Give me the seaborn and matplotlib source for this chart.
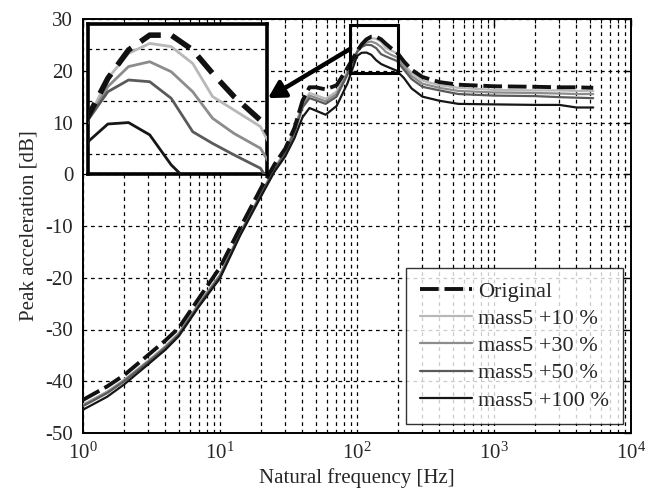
import matplotlib
matplotlib.use("Agg")
import matplotlib.pyplot as plt
import numpy as np
import pandas as pd
import seaborn as sns
from matplotlib.patches import Rectangle
from matplotlib.ticker import LogLocator, NullFormatter, NullLocator

# ---- data -------------------------------------------------------------
freq_hz = [1, 1.5, 2, 3, 4, 5, 7, 10, 14, 20, 25, 30, 35, 40, 45, 50, 59, 71, 85,
           100, 108, 117, 127, 138, 150, 162, 176, 195,
           220, 250, 300, 400, 550, 1000, 2000, 3000, 4000, 5300]

original = [-43.6, -41.0, -38.8, -34.9, -32.1, -29.7, -24.0, -18.0, -10.4, -2.6, 1.9, 5.0,
            9.0, 14.2, 16.8, 16.8, 16.4, 17.2, 20.5,
            23.73, 25.07, 26.06, 26.58, 26.58, 26.06, 25.24, 24.43, 23.6,
            21.8, 20.2, 18.8, 17.8, 17.3, 17.0, 16.9, 16.8, 16.8, 16.7]

mass5_10 = [-44.5, -42.0, -39.7, -36.0, -33.2, -30.7, -25.0, -19.4, -11.3, -3.6, 1.2, 4.5,
            8.8, 13.8, 15.7, 15.3, 14.6, 16.0, 19.8,
            23.61, 25.07, 25.94, 26.29, 26.18, 25.59, 24.43, 23.96, 23.38,
            21.3, 19.6, 18.1, 17.2, 16.7, 16.3, 16.2, 16.2, 16.1, 16.1]

mass5_30 = [-44.6, -42.1, -39.8, -36.1, -33.3, -30.8, -25.1, -19.5, -11.4, -3.7, 1.1, 4.3,
            8.5, 13.4, 15.2, 14.8, 14.1, 15.5, 19.5,
            23.61, 24.78, 25.48, 25.65, 25.30, 24.60, 23.67, 23.14, 22.62,
            20.8, 19.0, 17.5, 16.7, 16.1, 15.8, 15.7, 15.6, 15.5, 15.5]

mass5_50 = [-44.8, -42.3, -40.0, -36.3, -33.5, -31.0, -25.3, -19.7, -11.6, -3.9, 0.9, 4.0,
            8.1, 12.9, 14.7, 14.3, 13.6, 15.0, 19.2,
            23.61, 24.60, 25.01, 24.95, 24.37, 23.20, 22.79, 22.39, 21.92,
            20.2, 18.4, 16.9, 16.2, 15.5, 15.2, 15.1, 14.9, 14.8, 14.7]

mass5_100 = [-45.5, -43.0, -40.6, -36.7, -33.9, -31.3, -25.6, -20.1, -11.9, -4.2, 0.5, 3.5,
             7.0, 11.0, 12.8, 12.3, 11.5, 13.2, 17.5,
             22.85, 23.47, 23.52, 23.09, 22.04, 21.3, 20.9, 20.5, 20.0,
             18.6, 16.6, 15.0, 14.2, 13.6, 13.5, 13.4, 13.4, 12.9, 12.9]

series_labels = ["Original", "mass5 +10 %", "mass5 +30 %", "mass5 +50 %", "mass5 +100 %"]
x_tick_values = [1, 10, 100, 1000, 10000]
y_tick_values = [-50, -40, -30, -20, -10, 0, 10, 20, 30]

# ---- styling ----------------------------------------------------------
sns.set_style("white")
plt.rcParams.update({
    "font.family": ["Liberation Serif", "DejaVu Serif"],
    "mathtext.fontset": "custom",
    "mathtext.rm": "Liberation Serif",
    "mathtext.it": "Liberation Serif:italic",
    "axes.unicode_minus": False,
})

line_colors = {"Original": "#111111", "mass5 +10 %": "#b8b8b8", "mass5 +30 %": "#8c8c8c",
               "mass5 +50 %": "#5a5a5a", "mass5 +100 %": "#161616"}

df = pd.DataFrame({"freq": freq_hz, "Original": original, "mass5 +10 %": mass5_10,
                   "mass5 +30 %": mass5_30, "mass5 +50 %": mass5_50,
                   "mass5 +100 %": mass5_100})
long_df = df.melt(id_vars="freq", var_name="case", value_name="acc")

fig = plt.figure(figsize=(6.6, 5.01), dpi=100)
ax = fig.add_axes([83 / 660, 1 - 433 / 501, (631 - 83) / 660, (433 - 19) / 501])


def draw_curves(axis, solid_lw, dash_lw, dash_pattern):
    handles = {}
    for name in series_labels[1:] + series_labels[:1]:
        sub = long_df[long_df["case"] == name]
        sns.lineplot(data=sub, x="freq", y="acc", ax=axis, color=line_colors[name],
                     lw=dash_lw if name == "Original" else solid_lw,
                     sort=False, estimator=None, legend=False,
                     zorder=4 if name == "Original" else 3)
        line = axis.lines[-1]
        if name == "Original":
            line.set_dashes(dash_pattern)
            line.set_dash_capstyle("butt")
        handles[name] = line
    return [handles[n] for n in series_labels]


handles = draw_curves(ax, 1.6, 2.8, (4.8, 1.5))

ax.set_xscale("log")
ax.set_xlim(1, 1e4)
ax.set_ylim(-50, 30)
ax.set_xticks(x_tick_values)
ax.set_yticks(y_tick_values)
ax.xaxis.set_minor_locator(LogLocator(base=10, subs=range(2, 10)))
ax.xaxis.set_minor_formatter(NullFormatter())
ax.set_yticklabels([str(v) for v in y_tick_values])

grid_kw = dict(color="black", lw=0.9, linestyle=(0, (3, 3)))
ax.grid(True, which="both", axis="x", **grid_kw)
ax.grid(True, which="major", axis="y", **grid_kw)
ax.tick_params(which="both", direction="in", top=True, right=True, labelsize=15,
               color="black")
ax.tick_params(which="major", length=5, width=1, pad=7)
ax.tick_params(which="minor", length=3, width=0.8)
for sp in ax.spines.values():
    sp.set_color("black")
    sp.set_linewidth(1.4)

ax.set_xlabel("Natural frequency [Hz]", fontsize=15, labelpad=3)
ax.set_ylabel("Peak acceleration [dB]", fontsize=15, labelpad=5)

leg = ax.legend(handles, series_labels, loc="lower right", bbox_to_anchor=(0.985, 0.022),
                borderaxespad=0, fontsize=16, handlelength=2.35, handletextpad=0.3,
                labelspacing=0.3, frameon=True, fancybox=False, shadow=False,
                borderpad=0.6)
leg.get_frame().set_edgecolor("black")
leg.get_frame().set_linewidth(1.0)
leg.set_zorder(6)

# zoom window around the resonance peak
zoom_x = (88.9, 199)
zoom_y = (19.6, 28.8)
ax.add_patch(Rectangle((zoom_x[0], zoom_y[0]), zoom_x[1] - zoom_x[0], zoom_y[1] - zoom_y[0],
                       fill=False, ec="black", lw=2.2, zorder=5))
ax.annotate("", xy=(22.4, 14.7), xytext=(zoom_x[0], 24.2),
            arrowprops=dict(arrowstyle="-|>,head_length=0.5,head_width=0.28",
                            mutation_scale=20, lw=3.2, color="black",
                            shrinkA=0, shrinkB=0), zorder=5)

# magnified view of the peak
axin = fig.add_axes([88 / 660, 1 - 174 / 501, 179 / 660, 150 / 501])
axin.set_facecolor("white")
draw_curves(axin, 2.0, 4.0, (4.0, 2.0))
axin.set_xscale("log")
axin.set_xlim(100, 200)
axin.set_ylim(21.72, 26.97)
axin.xaxis.set_major_locator(NullLocator())
axin.xaxis.set_minor_locator(NullLocator())
axin.set_yticks([22.42, 24.27, 26.1])
axin.tick_params(which="both", length=0, labelleft=False, labelbottom=False)
axin.grid(True, axis="y", color="black", lw=0.9, linestyle=(0, (3, 3)))
axin.grid(False, axis="x")
axin.set_xlabel("")
axin.set_ylabel("")
for sp in axin.spines.values():
    sp.set_color("black")
    sp.set_linewidth(2.6)

fig.savefig("out.png", dpi=100)
